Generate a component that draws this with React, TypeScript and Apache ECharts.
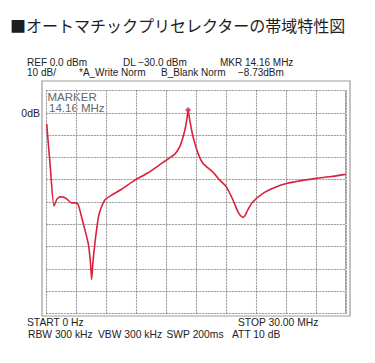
import React, { useEffect, useRef } from "react";
import * as echarts from "echarts";

const titleText = "■オートマチックプリセレクターの帯域特性図";
const headerRow1 = ["REF 0.0 dBm", "DL −30.0 dBm", "MKR 14.16 MHz"];
const headerRow2 = ["10 dB/", "*A_Write Norm", "B_Blank Norm", "−8.73dBm"];
const footerRow1 = ["START 0 Hz", "STOP 30.00 MHz"];
const footerRow2 = ["RBW 300 kHz", "VBW 300 kHz", "SWP 200ms", "ATT 10 dB"];
const markerLabel = ["MARKER", "14.16 MHz"];
const refLabel = "0dB";

// frequency (MHz) and level (dB) of the trace
const freqs = [
  0.02, 0.35, 0.75, 1.05, 1.35, 1.65, 2.05, 2.52, 2.85, 3.15, 3.68, 4.18, 4.4, 4.52,
  4.65, 4.85, 5.15, 5.35, 5.85, 6.52, 7.52, 8.85, 10.18, 11.52, 12.85, 13.35, 13.78,
  14.05, 14.18, 14.35, 14.68, 15.18, 15.68, 16.65, 17.35, 18.02, 18.68, 19.18, 19.45,
  19.68, 19.9, 20.15, 20.68, 21.68, 22.8, 24.02, 25.5, 27.02, 28.5, 29.95,
];
const levels = [
  -5.1, -22.6, -41.8, -38.7, -37.7, -37.8, -38.7, -40.4, -40.4, -40.9, -49.6, -58.6, -67, -74.7,
  -67, -58.4, -48.1, -44.1, -39.1, -36.9, -34.3, -30.2, -26.9, -22.7, -18.5, -15.2, -9.2,
  -3.3, 1.2, -3.3, -10.8, -18.2, -22.7, -26.5, -30.2, -33.2, -39.1, -44.4, -46.2,
  -46.9, -46.0, -43.6, -39.9, -36.1, -33.6, -31.7, -30.4, -29.4, -28.6, -27.6,
];
const markerFreq = [14.18];
const markerLevel = [1.2];

const xTicks = { min: 0, max: 30, interval: 3 };
const yTicks = { min: -90, max: 10, interval: 10 };

export default function App() {
  const ref = useRef<HTMLDivElement>(null);
  useEffect(() => {
    if (!ref.current) return;
    const chart = echarts.init(ref.current, undefined, { renderer: "svg" });
    const txtFont = "Liberation Sans, Arial, sans-serif";
    const t = (text: string, x: number, y: number, size = 10, fill = "#222", align = "left") => ({
      type: "text",
      x,
      y,
      style: { text, fill, font: `${size}px ${txtFont}`, textAlign: align, textVerticalAlign: "middle" },
      silent: true,
    });
    const gridPos = { left: 46.5, top: 90.5, width: 299.5, height: 223 };
    const axisCommon = { show: true, axisLabel: { show: false }, axisTick: { show: false }, axisLine: { show: false } };
    chart.setOption({
      animation: false,
      grid: { ...gridPos, show: true, borderColor: "#3a3a3a", borderWidth: 1, backgroundColor: "transparent", z: 1 },
      xAxis: [
        {
          type: "value", ...xTicks, ...axisCommon, z: 1,
          splitLine: { show: true, lineStyle: { color: "#e0e0e0", width: 1.2, type: "solid" } },
        },
        {
          type: "value", ...xTicks, ...axisCommon, z: 2, position: "top",
          splitLine: { show: true, lineStyle: { color: "#666", width: 1, type: [1, 2] } },
        },
      ],
      yAxis: [
        {
          type: "value", ...yTicks, ...axisCommon, z: 1,
          splitLine: { show: true, lineStyle: { color: "#e0e0e0", width: 1.2, type: "solid" } },
        },
        {
          type: "value", ...yTicks, ...axisCommon, z: 2, position: "right",
          splitLine: { show: true, lineStyle: { color: "#666", width: 1, type: [1, 2] } },
        },
      ],
      series: [
        {
          type: "line",
          data: freqs.map((f, i) => [f, levels[i]]),
          showSymbol: false,
          smooth: 0.2,
          lineStyle: { color: "#dc1f3c", width: 1.6 },
          z: 5,
        },
        {
          type: "scatter",
          data: markerFreq.map((f, i) => [f, markerLevel[i]]),
          symbol: "diamond",
          symbolSize: 6,
          itemStyle: { color: "#d81b72" },
          z: 6,
        },
      ],
      graphic: [
        {
          type: "rect",
          shape: { x: 42, y: 81, width: 308, height: 235 },
          style: { fill: "none", stroke: "#9c9c9c", lineWidth: 1.2 },
          silent: true,
          z: 0,
        },
        {
          type: "text",
          x: 10,
          y: 25,
          style: {
            text: titleText,
            fill: "#1e1e1e",
            font: `16px "Noto Sans CJK JP", sans-serif`,
            textVerticalAlign: "middle",
          },
          silent: true,
        },
        t(headerRow1[0], 27, 62),
        t(headerRow1[1], 123, 62),
        t(headerRow1[2], 220, 62),
        t(headerRow2[0], 27, 72),
        t(headerRow2[1], 79, 72),
        t(headerRow2[2], 161, 72),
        t(headerRow2[3], 238, 72),
        t(refLabel, 40, 113, 10.5, "#222", "right"),
        t(markerLabel[0], 47.5, 96.5, 11.5, "#666"),
        t(markerLabel[1], 49, 107.5, 11.5, "#666"),
        t(footerRow1[0], 27, 322.5, 10.3),
        t(footerRow1[1], 238, 322.5, 10.3),
        t(footerRow2[0], 28, 334, 10.3),
        t(footerRow2[1], 98, 334, 10.3),
        t(footerRow2[2], 166.5, 334, 10.3),
        t(footerRow2[3], 232, 334, 10.3),
      ],
    });
    return () => chart.dispose();
  }, []);
  return <div ref={ref} style={{ width: 375, height: 363, position: "absolute", left: 0, top: 0 }} />;
}
